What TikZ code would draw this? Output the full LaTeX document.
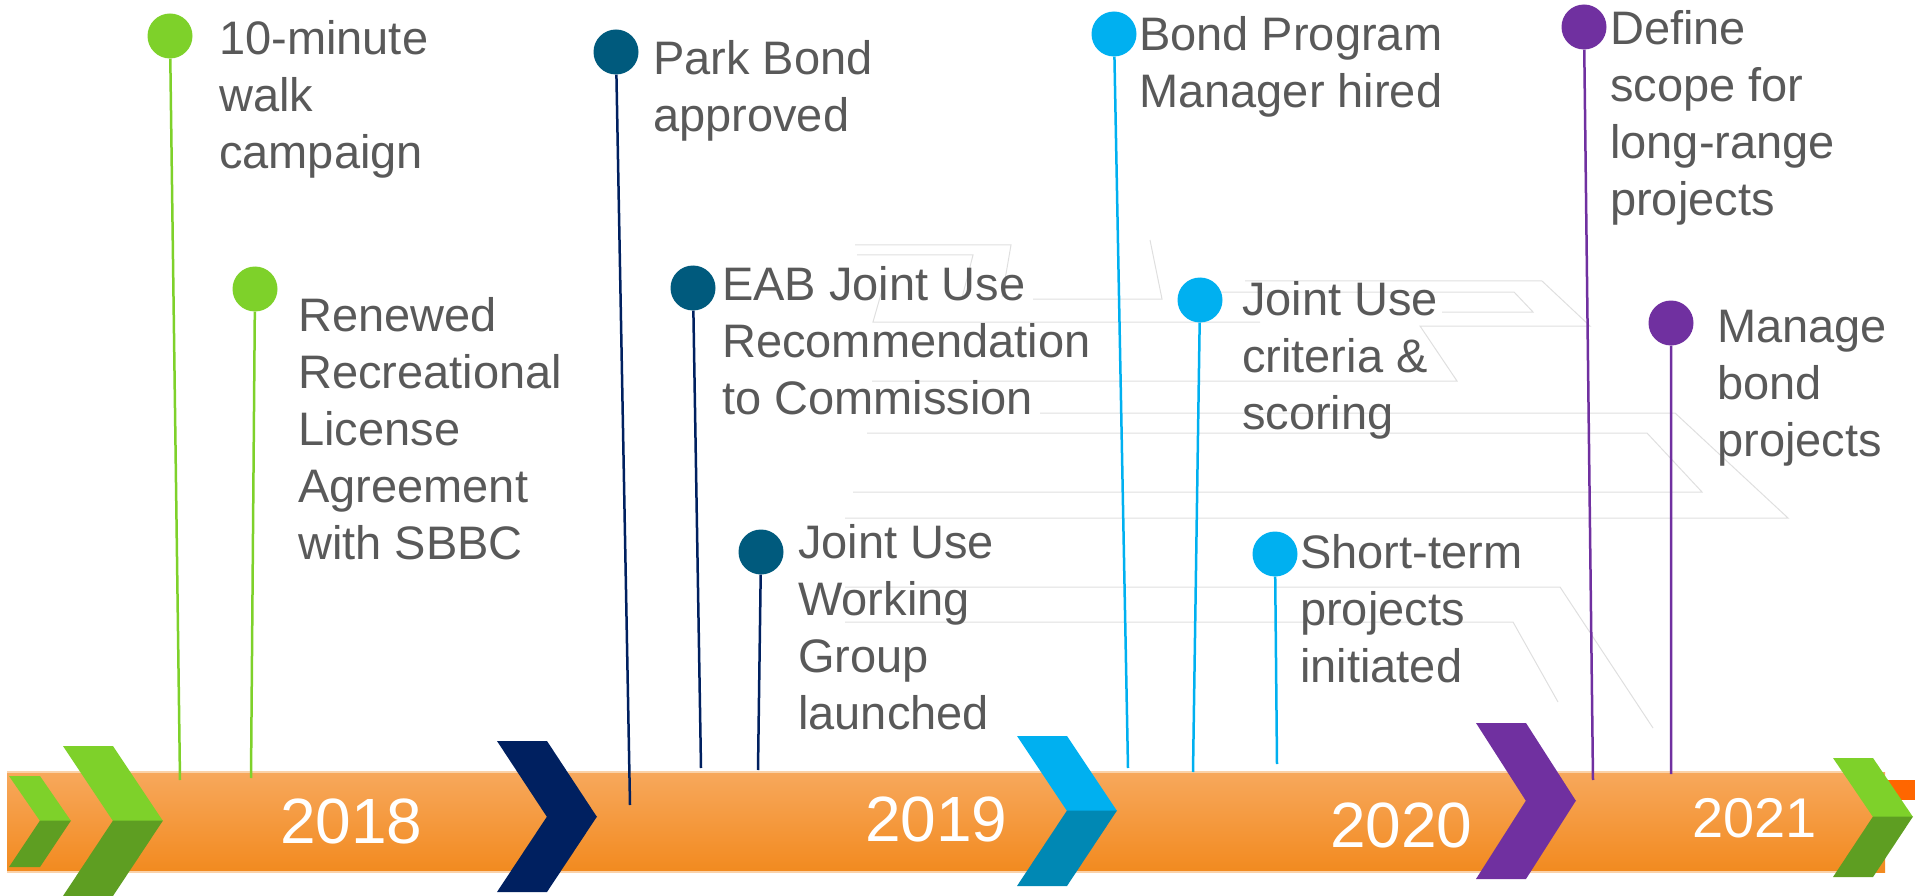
\documentclass[tikz,border=0pt]{standalone}
\usepackage{fontspec}
\setmainfont{Liberation Sans}
\definecolor{grn}{HTML}{7ED12A}
\definecolor{grndark}{HTML}{5E9E22}
\definecolor{navyblue}{HTML}{002060}
\definecolor{tealblue}{HTML}{005A7D}
\definecolor{skyblue}{HTML}{00B0F0}
\definecolor{skydark}{HTML}{0088B4}
\definecolor{purp}{HTML}{7030A0}
\definecolor{bartop}{HTML}{F7A85C}
\definecolor{barbot}{HTML}{F28A1F}
\definecolor{baredge}{HTML}{FAD2AA}
\definecolor{redorange}{HTML}{FF6600}
\definecolor{txtgray}{HTML}{595959}
% chevron: x, y top, y tip, y bottom, half width, top colour, bottom colour
\newcommand{\drawchev}[7]{%
  \fill[#6] (#1,#2) -- ({#1+#5},#2) -- ({#1+2*#5},#3) -- ({#1+#5},#3) -- cycle;
  \fill[#7] ({#1+#5},{#3-0.5}) -- ({#1+2*#5},{#3-0.5}) -- ({#1+#5},#4) -- (#1,#4) -- cycle;}
\begin{document}
\begin{tikzpicture}[x=1pt,y=-1pt,
    bead/.style={circle,minimum size=45pt,inner sep=0pt},
    stalk/.style={line width=2.5pt},
    evtext/.style={anchor=north west,inner sep=0pt,align=left,text=txtgray,font=\fontsize{47}{57}\selectfont},
    yr/.style={anchor=base west,inner sep=0pt,text=white,font=\fontsize{64}{70}\selectfont},
    ghost/.style={draw=gray!25,line width=1pt}]
  \useasboundingbox (0,0) rectangle (1915,896);

  % faint guide lines
  \draw[ghost] (855,245) -- (1011,245) -- (1002,297);
  \draw[ghost] (857,255) -- (973,255) -- (962,298);
  \draw[ghost] (1033,299) -- (1162,299) -- (1150,240);
  \draw[ghost] (885,280) -- (873,322) -- (1260,322);
  \draw[ghost] (1245,281) -- (1542,281) -- (1590,326) -- (1420,326) -- (1457,381) -- (872,381);
  \draw[ghost] (1220,292) -- (1514,292) -- (1533,312) -- (1442,312);
  \draw[ghost] (1040,413) -- (1675,413) -- (1788,518) -- (845,518);
  \draw[ghost] (867,433) -- (1647,433) -- (1702,492) -- (853,492);
  \draw[ghost] (845,587) -- (1560,587) -- (1653,728);
  \draw[ghost] (845,622) -- (1513,622) -- (1558,702);

  % time bar
  \fill[redorange] (1860,780) rectangle (1915,800);
  \shade[top color=bartop,bottom color=barbot] (7,772) rectangle (1885,872);
  \draw[baredge,line width=1.5pt] (7,772) -- (1860,772) (7,872) -- (1860,872);

  \drawchev{9}{776}{821}{867}{31}{grn}{grndark}
  \drawchev{63}{746}{821}{896}{50}{grn}{grndark}
  \drawchev{497}{741}{817}{892}{50}{navyblue}{navyblue}
  \drawchev{1017}{736}{811}{886}{50}{skyblue}{skydark}
  \drawchev{1476}{723}{801}{879}{50}{purp}{purp}
  \drawchev{1833}{758}{817}{877}{40}{grn}{grndark}

  \node[yr] (y18) at (280,843) {2018};
  \node[yr] (y19) at (865,841) {2019};
  \node[yr] (y20) at (1330,847) {2020};
  \node[yr,font=\fontsize{56}{60}\selectfont] (y21) at (1692,837) {2021};

  % events
  \node[bead,fill=grn] (p1) at (170,36) {};
  \node[bead,fill=grn] (p2) at (255,289) {};
  \node[bead,fill=tealblue] (p3) at (616,52) {};
  \node[bead,fill=tealblue] (p4) at (693,288) {};
  \node[bead,fill=tealblue] (p5) at (761,552) {};
  \node[bead,fill=skyblue] (p6) at (1114,34) {};
  \node[bead,fill=skyblue] (p7) at (1200,300) {};
  \node[bead,fill=skyblue] (p8) at (1275,554) {};
  \node[bead,fill=purp] (p9) at (1584,27) {};
  \node[bead,fill=purp] (p10) at (1671,323) {};

  \coordinate (b1) at (180,780);
  \coordinate (b2) at (251,778);
  \coordinate (b3) at (630,805);
  \coordinate (b4) at (701,768);
  \coordinate (b5) at (758,770);
  \coordinate (b6) at (1128,768);
  \coordinate (b7) at (1193,772);
  \coordinate (b8) at (1277,764);
  \coordinate (b9) at (1593,780);
  \coordinate (b10) at (1671,774);

  \draw[stalk,grn] (p1) -- (b1) (p2) -- (b2);
  \draw[stalk,navyblue] (p3) -- (b3) (p4) -- (b4) (p5) -- (b5);
  \draw[stalk,skyblue] (p6) -- (b6) (p7) -- (b7) (p8) -- (b8);
  \draw[stalk,purp] (p9) -- (b9) (p10) -- (b10);

  \node[evtext] (t1) at (219,14) {\strut 10-minute\\walk\\campaign};
  \node[evtext] (t2) at (298,291) {\strut Renewed\\Recreational\\License\\Agreement\\with SBBC};
  \node[evtext] (t3) at (653,34) {\strut Park Bond\\approved};
  \node[evtext] (t4) at (722,260) {\strut EAB Joint Use\\Recommendation\\to Commission};
  \node[evtext] (t5) at (798,518) {\strut Joint Use\\Working\\Group\\launched};
  \node[evtext] (t6) at (1139,10) {\strut Bond Program\\Manager hired};
  \node[evtext] (t7) at (1242,275) {\strut Joint Use\\criteria \&\\scoring};
  \node[evtext] (t8) at (1300,528) {\strut Short-term\\projects\\initiated};
  \node[evtext] (t9) at (1610,4) {\strut Define\\scope for\\long-range\\projects};
  \node[evtext] (t10) at (1717,302) {\strut Manage\\bond\\projects};
\end{tikzpicture}
\end{document}
